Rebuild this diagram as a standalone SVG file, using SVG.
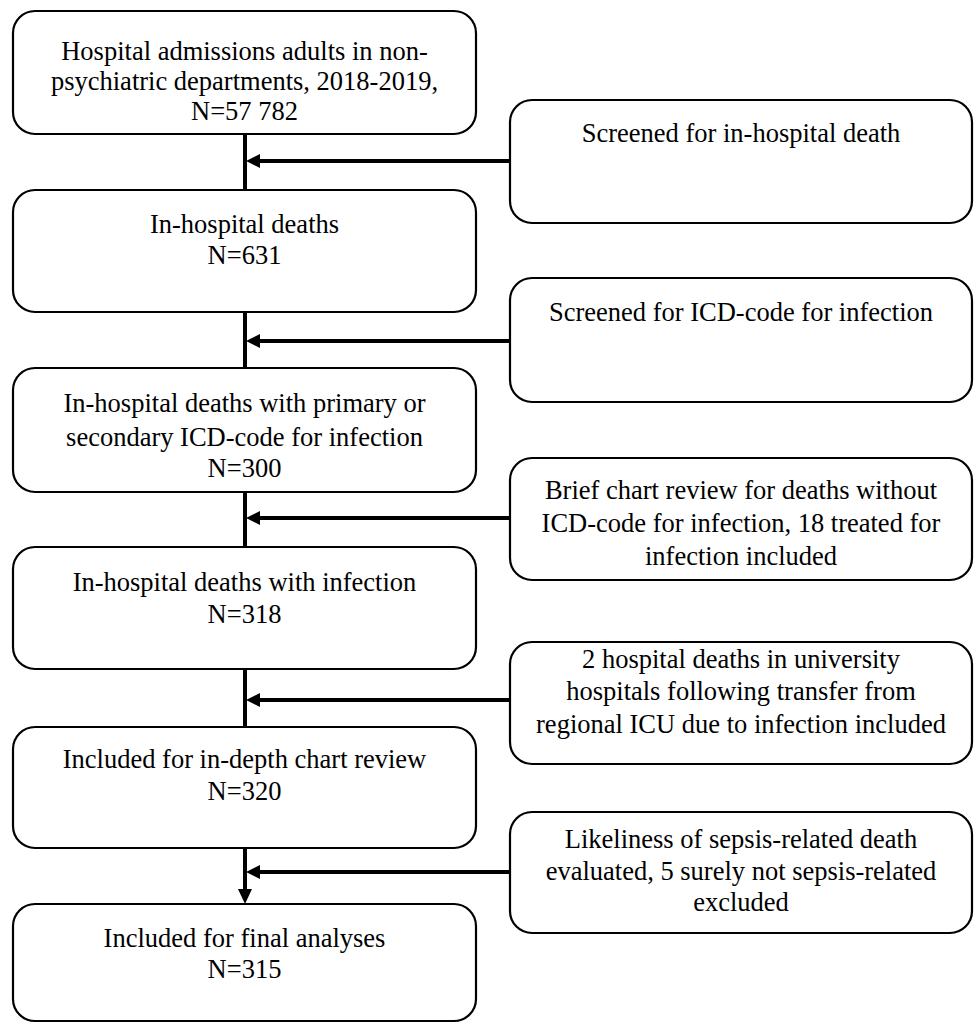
<svg xmlns="http://www.w3.org/2000/svg" width="974" height="1024" viewBox="0 0 974 1024">
<style>
.box{fill:#fff;stroke:#000;stroke-width:2.2}
.t{font-family:"Liberation Serif","Times New Roman",serif;font-size:26.5px;fill:#000;text-anchor:middle}
.c{stroke:#000;stroke-width:4;fill:none}
.h{fill:#000;stroke:none}
</style>
<rect width="974" height="1024" fill="#fff"/>
<g id="connectors">
<path class="c" d="M245,134V190M245,312V368M245,492V547M245,669V727M245,848V891"/>
<path class="c" d="M510,161H258M510,341H258M510,518H258M510,700H258M510,872H258"/>
<polygon class="h" points="246,161 260,154 260,168"/>
<polygon class="h" points="246,341 260,334 260,348"/>
<polygon class="h" points="246,518 260,511 260,525"/>
<polygon class="h" points="246,700 260,693 260,707"/>
<polygon class="h" points="246,872 260,865 260,879"/>
<polygon class="h" points="245,904 238,889 252,889"/>
</g>
<g id="n1">
<rect class="box" x="13" y="11" width="463" height="123" rx="22"/>
<text class="t" x="244.5" y="59.5">Hospital admissions adults in non-</text>
<text class="t" x="244.5" y="89.5">psychiatric departments, 2018-2019,</text>
<text class="t" x="244.5" y="119.5">N=57 782</text>
</g>
<g id="n2">
<rect class="box" x="13" y="190" width="463" height="122" rx="22"/>
<text class="t" x="244.5" y="233">In-hospital deaths</text>
<text class="t" x="244.5" y="263.5">N=631</text>
</g>
<g id="n3">
<rect class="box" x="13" y="368" width="463" height="124" rx="22"/>
<text class="t" x="244.5" y="412">In-hospital deaths with primary or</text>
<text class="t" x="244.5" y="446">secondary ICD-code for infection</text>
<text class="t" x="244.5" y="477">N=300</text>
</g>
<g id="n4">
<rect class="box" x="13" y="547" width="463" height="122" rx="22"/>
<text class="t" x="244.5" y="591">In-hospital deaths with infection</text>
<text class="t" x="244.5" y="623">N=318</text>
</g>
<g id="n5">
<rect class="box" x="13" y="727" width="463" height="121" rx="22"/>
<text class="t" x="244.5" y="768">Included for in-depth chart review</text>
<text class="t" x="244.5" y="800">N=320</text>
</g>
<g id="n6">
<rect class="box" x="13" y="904" width="463" height="117" rx="22"/>
<text class="t" x="244.5" y="947">Included for final analyses</text>
<text class="t" x="244.5" y="978">N=315</text>
</g>
<g id="r1">
<rect class="box" x="510" y="100" width="462" height="123" rx="22"/>
<text class="t" x="741" y="142">Screened for in-hospital death</text>
</g>
<g id="r2">
<rect class="box" x="510" y="278" width="462" height="124" rx="22"/>
<text class="t" x="741" y="321">Screened for ICD-code for infection</text>
</g>
<g id="r3">
<rect class="box" x="510" y="458" width="462" height="122" rx="22"/>
<text class="t" x="741" y="499">Brief chart review for deaths without</text>
<text class="t" x="741" y="532">ICD-code for infection, 18 treated for</text>
<text class="t" x="741" y="565">infection included</text>
</g>
<g id="r4">
<rect class="box" x="510" y="642" width="462" height="122" rx="22"/>
<text class="t" x="741" y="668">2 hospital deaths in university</text>
<text class="t" x="741" y="700">hospitals following transfer from</text>
<text class="t" x="741" y="733">regional ICU due to infection included</text>
</g>
<g id="r5">
<rect class="box" x="510" y="812" width="462" height="121" rx="22"/>
<text class="t" x="741" y="848">Likeliness of sepsis-related death</text>
<text class="t" x="741" y="880">evaluated, 5 surely not sepsis-related</text>
<text class="t" x="741" y="911">excluded</text>
</g>
</svg>
